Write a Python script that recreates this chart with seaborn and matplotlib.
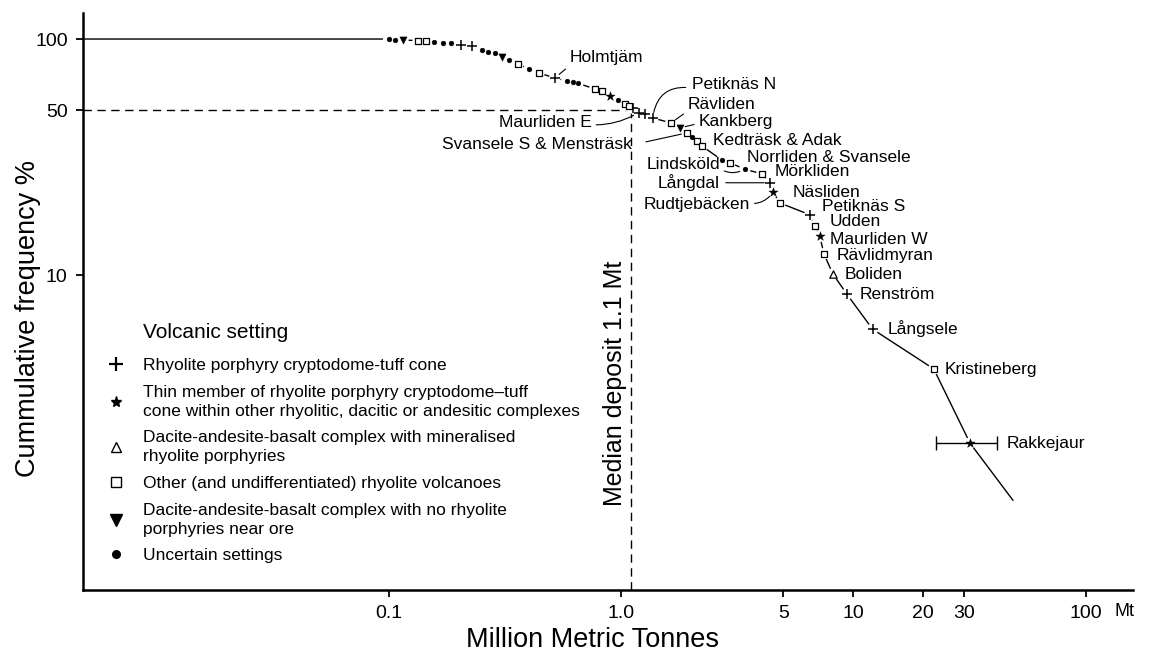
import matplotlib
matplotlib.use('Agg')
import pandas as pd
import seaborn as sns
import matplotlib.pyplot as plt
from matplotlib.lines import Line2D

W, H = 1149, 661

### Data
# deposit size (Mt) and cumulative frequency (%) for every marker, smallest first
tonnage = [0.100, 0.106, 0.115, 0.134, 0.145, 0.157, 0.171, 0.185, 0.205, 0.228,
           0.252, 0.267, 0.286, 0.307, 0.329, 0.360, 0.402, 0.443, 0.519, 0.585,
           0.621, 0.652, 0.771, 0.828, 0.895, 0.970, 1.04, 1.08, 1.125, 1.19,
           1.27, 1.37, 1.64, 1.79, 1.92, 2.02, 2.12, 2.23, 2.72, 2.94,
           3.41, 4.04, 4.37, 4.51, 4.83, 6.50, 6.83, 7.18, 7.47, 8.17,
           9.38, 12.1, 22.2, 31.8]
cum_freq = [100, 99.5, 99.0, 98.5, 98.0, 97.4, 96.6, 95.8, 94.3, 93.2,
            89.8, 88.1, 87.0, 83.9, 81.5, 78.4, 74.6, 71.8, 68.4, 66.4,
            65.7, 65.0, 61.4, 60.2, 57.3, 55.2, 53.0, 52.0, 51.0, 48.8,
            48.2, 46.3, 44.1, 42.0, 40.0, 38.4, 37.0, 35.2, 30.7, 29.9,
            28.1, 26.8, 24.6, 22.5, 20.2, 18.0, 16.2, 14.6, 12.3, 10.1,
            8.3, 5.9, 4.0, 1.94]
setting = ['dot', 'dot', 'tridown', 'square', 'square', 'dot', 'dot', 'dot', 'plus', 'plus',
           'dot', 'dot', 'dot', 'tridown', 'dot', 'square', 'dot', 'square', 'plus', 'dot',
           'dot', 'dot', 'square', 'square', 'star', 'dot', 'square', 'square', 'plus', 'plus',
           'plus', 'plus', 'square', 'tridown', 'square', 'dot', 'square', 'square', 'dot', 'square',
           'dot', 'square', 'plus', 'star', 'square', 'plus', 'square', 'star', 'square', 'tri',
           'plus', 'plus', 'square', 'star']
deposit = ['', '', '', '', '', '', '', '', '', '',
           '', '', '', '', '', '', '', '', 'Holmtjäm', '',
           '', '', '', '', '', '', '', '', '', 'Maurliden E',
           '', 'Petiknäs N', 'Rävliden', 'Kankberg', 'Svansele S & Mensträsk', '', '', 'Kedträsk & Adak', '', 'Norrliden & Svansele',
           'Lindsköld', 'Mörkliden', 'Långdal', 'Rudtjebäcken', 'Näsliden', 'Petiknäs S', 'Udden', 'Maurliden W', 'Rävlidmyran', 'Boliden',
           'Renström', 'Långsele', 'Kristineberg', 'Rakkejaur']

# Rakkejaur tonnage range
rakkejaur_range = (22.6, 41.5)
# curve runs flat at 100 % from the axis and tails off past the largest deposit
curve_start = (0.001, 100)
curve_end = (48.7, 1.11)
median_mt = 1.1
median_pct = 50

x_ticks = [0.1, 1, 5, 10, 20, 30, 100]
x_ticklabels = ['0.1', '1.0', '5', '10', '20', '30', '100']
y_ticks = [10, 50, 100]
y_ticklabels = ['10', '50', '100']

setting_order = ['plus', 'star', 'tri', 'square', 'tridown', 'dot']
setting_labels = {
    'plus': 'Rhyolite porphyry cryptodome-tuff cone',
    'star': 'Thin member of rhyolite porphyry cryptodome–tuff\ncone within other rhyolitic, dacitic or andesitic complexes',
    'tri': 'Dacite-andesite-basalt complex with mineralised\nrhyolite porphyries',
    'square': 'Other (and undifferentiated) rhyolite volcanoes',
    'tridown': 'Dacite-andesite-basalt complex with no rhyolite\nporphyries near ore',
    'dot': 'Uncertain settings',
}

df = pd.DataFrame({'tonnage': tonnage, 'cum_freq': cum_freq,
                   'setting': setting, 'deposit': deposit})

### Styling
sns.set_style('ticks')
plt.rcParams['font.family'] = ['Liberation Sans', 'DejaVu Sans']
plt.rcParams.update({'text.color': 'black', 'axes.labelcolor': 'black',
                     'xtick.color': 'black', 'ytick.color': 'black',
                     'axes.edgecolor': 'black'})

marker_style = {
    'plus':    dict(marker='+', s=44, color='black', linewidth=1.1),
    'star':    dict(marker='*', s=48, color='black', edgecolor='black', linewidth=0.3),
    'tri':     dict(marker='^', s=28, color='white', edgecolor='black', linewidth=0.9),
    'square':  dict(marker='s', s=22, color='white', edgecolor='black', linewidth=0.9),
    'tridown': dict(marker='v', s=26, color='black', edgecolor='black', linewidth=0.4),
    'dot':     dict(marker='o', s=12, color='black', edgecolor='black', linewidth=0.3),
}
legend_style = {
    'plus':    dict(marker='+', ms=10, mew=1.6, color='black'),
    'star':    dict(marker='*', ms=8, color='black'),
    'tri':     dict(marker='^', ms=6.5, mfc='white', mec='black', mew=1),
    'square':  dict(marker='s', ms=7.5, mfc='white', mec='black', mew=1),
    'tridown': dict(marker='v', ms=8, color='black'),
    'dot':     dict(marker='o', ms=5.5, color='black'),
}

# label offsets in pixels (dx, dy), alignment, leader (relpos, rad, shrinkA) or None
label_layout = {
    'Holmtjäm': (15, 20, 'left', ((0, 0), 0.0, 1)),
    'Maurliden E': (-47, -10, 'right', ((1, 0.35), 0.15, 1)),
    'Petiknäs N': (39, 33, 'left', ((0, 0.3), 0.5, 2)),
    'Rävliden': (17, 18, 'left', ((0, 0.1), 0.0, 1)),
    'Kankberg': (19, 6, 'left', ((0, 0.4), 0.0, 1)),
    'Svansele S & Mensträsk': (-55, -12, 'right', ((1, 0.5), 0.0, 8)),
    'Kedträsk & Adak': (11, 6, 'left', None),
    'Norrliden & Svansele': (17, 5, 'left', None),
    'Lindsköld': (-25, 5, 'right', ((1, 0.2), 0.3, 1)),
    'Mörkliden': (13, 2, 'left', None),
    'Långdal': (-50, 0, 'right', ((1, 0.5), 0.0, 2)),
    'Rudtjebäcken': (-23, -13, 'right', ((1, 0.6), 0.3, 1)),
    'Näsliden': (13, 10, 'left', None),
    'Petiknäs S': (12, 8, 'left', None),
    'Udden': (15, 4, 'left', None),
    'Maurliden W': (10, -3, 'left', None),
    'Rävlidmyran': (13, -2, 'left', None),
    'Boliden': (12, -1, 'left', None),
    'Renström': (13, 0, 'left', None),
    'Långsele': (15, 1, 'left', None),
    'Kristineberg': (11, -1, 'left', None),
    'Rakkejaur': (37, 0, 'left', None),
}

fig = plt.figure(figsize=(W / 100, H / 100), dpi=100)
ax = fig.add_axes([83 / W, 71 / H, 1050 / W, 577 / H])
ax.set_xscale('log')
ax.set_yscale('log')
ax.set_xlim(0.00483, 160)
ax.set_ylim(0.4627, 128.9)

# cumulative curve
curve = pd.DataFrame({'tonnage': [curve_start[0]] + tonnage + [curve_end[0]],
                      'cum_freq': [curve_start[1]] + cum_freq + [curve_end[1]]})
sns.lineplot(data=curve, x='tonnage', y='cum_freq', sort=False, estimator=None,
             color='black', linewidth=1.0, ax=ax, zorder=2)

# median guides
ax.hlines(median_pct, ax.get_xlim()[0], median_mt, colors='black', linewidth=1.0,
          linestyles=(0, (6, 4)), zorder=1)
ax.vlines(median_mt, ax.get_ylim()[0], median_pct, colors='black', linewidth=1.0,
          linestyles=(0, (6, 4)), zorder=1)
ax.annotate('Median deposit 1.1 Mt', xy=(median_mt, 0.57),
            xycoords=('data', 'axes fraction'), xytext=(-4, 0),
            textcoords='offset pixels', rotation=90, ha='right', va='top', fontsize=18)

# white halo so the curve breaks around each marker
sns.scatterplot(data=df, x='tonnage', y='cum_freq', marker='o', s=70, color='white',
                edgecolor='none', ax=ax, zorder=3, legend=False)

# Rakkejaur tonnage range
rk = df[df['deposit'] == 'Rakkejaur'].iloc[0]
ax.errorbar(rk['tonnage'], rk['cum_freq'],
            xerr=[[rk['tonnage'] - rakkejaur_range[0]], [rakkejaur_range[1] - rk['tonnage']]],
            fmt='none', ecolor='black', elinewidth=1.0, capsize=5, capthick=1.0, zorder=3.5)

for key, grp in df.groupby('setting'):
    sns.scatterplot(data=grp, x='tonnage', y='cum_freq', ax=ax, zorder=4,
                    legend=False, **marker_style[key])

# deposit names
for _, row in df[df['deposit'] != ''].iterrows():
    dx, dy, ha, lead = label_layout[row['deposit']]
    arrow = None
    if lead is not None:
        relpos, rad, shrink_a = lead
        arrow = dict(arrowstyle='-', lw=0.8, color='black', relpos=relpos,
                     shrinkA=shrink_a, shrinkB=4, connectionstyle=f'arc3,rad={rad}')
    ax.annotate(row['deposit'], xy=(row['tonnage'], row['cum_freq']), xytext=(dx, dy),
                textcoords='offset pixels', ha=ha, va='center', fontsize=12.5,
                arrowprops=arrow, zorder=5)

# axes
ax.set_xticks(x_ticks)
ax.set_xticklabels(x_ticklabels)
ax.set_yticks(y_ticks)
ax.set_yticklabels(y_ticklabels)
ax.minorticks_off()
ax.tick_params(axis='both', which='major', direction='out', length=5, width=1.3,
               labelsize=14, pad=6, color='black', labelcolor='black')
for side in ['left', 'bottom']:
    ax.spines[side].set_linewidth(1.8)
    ax.spines[side].set_color('black')
sns.despine(ax=ax)

ax.set_xlabel('Million Metric Tonnes', fontsize=19.5)
ax.set_ylabel('Cummulative frequency %', fontsize=19.5)
ax.xaxis.set_label_coords(0.485, -0.064)
ax.yaxis.set_label_coords(-0.04, 0.47)
fig.text(1124 / W, 1 - 611 / H, 'Mt', ha='center', va='center', fontsize=13)

# legend
handles = [Line2D([], [], linestyle='none', **legend_style[k]) for k in setting_order]
labels = [setting_labels[k] for k in setting_order]
fig.text(143 / W, 1 - 332 / H, 'Volcanic setting', ha='left', va='center', fontsize=15)
leg = ax.legend(handles, labels, loc='upper left', bbox_to_anchor=(107 / W, 1 - 358 / H),
                bbox_transform=fig.transFigure, frameon=False, fontsize=12.5,
                handlelength=1.0, handletextpad=1.1, labelspacing=0.66,
                borderpad=0, borderaxespad=0)
for t in leg.get_texts():
    t.set_linespacing(1.35)
    t.set_color('black')

fig.savefig('out.png', dpi=100)
